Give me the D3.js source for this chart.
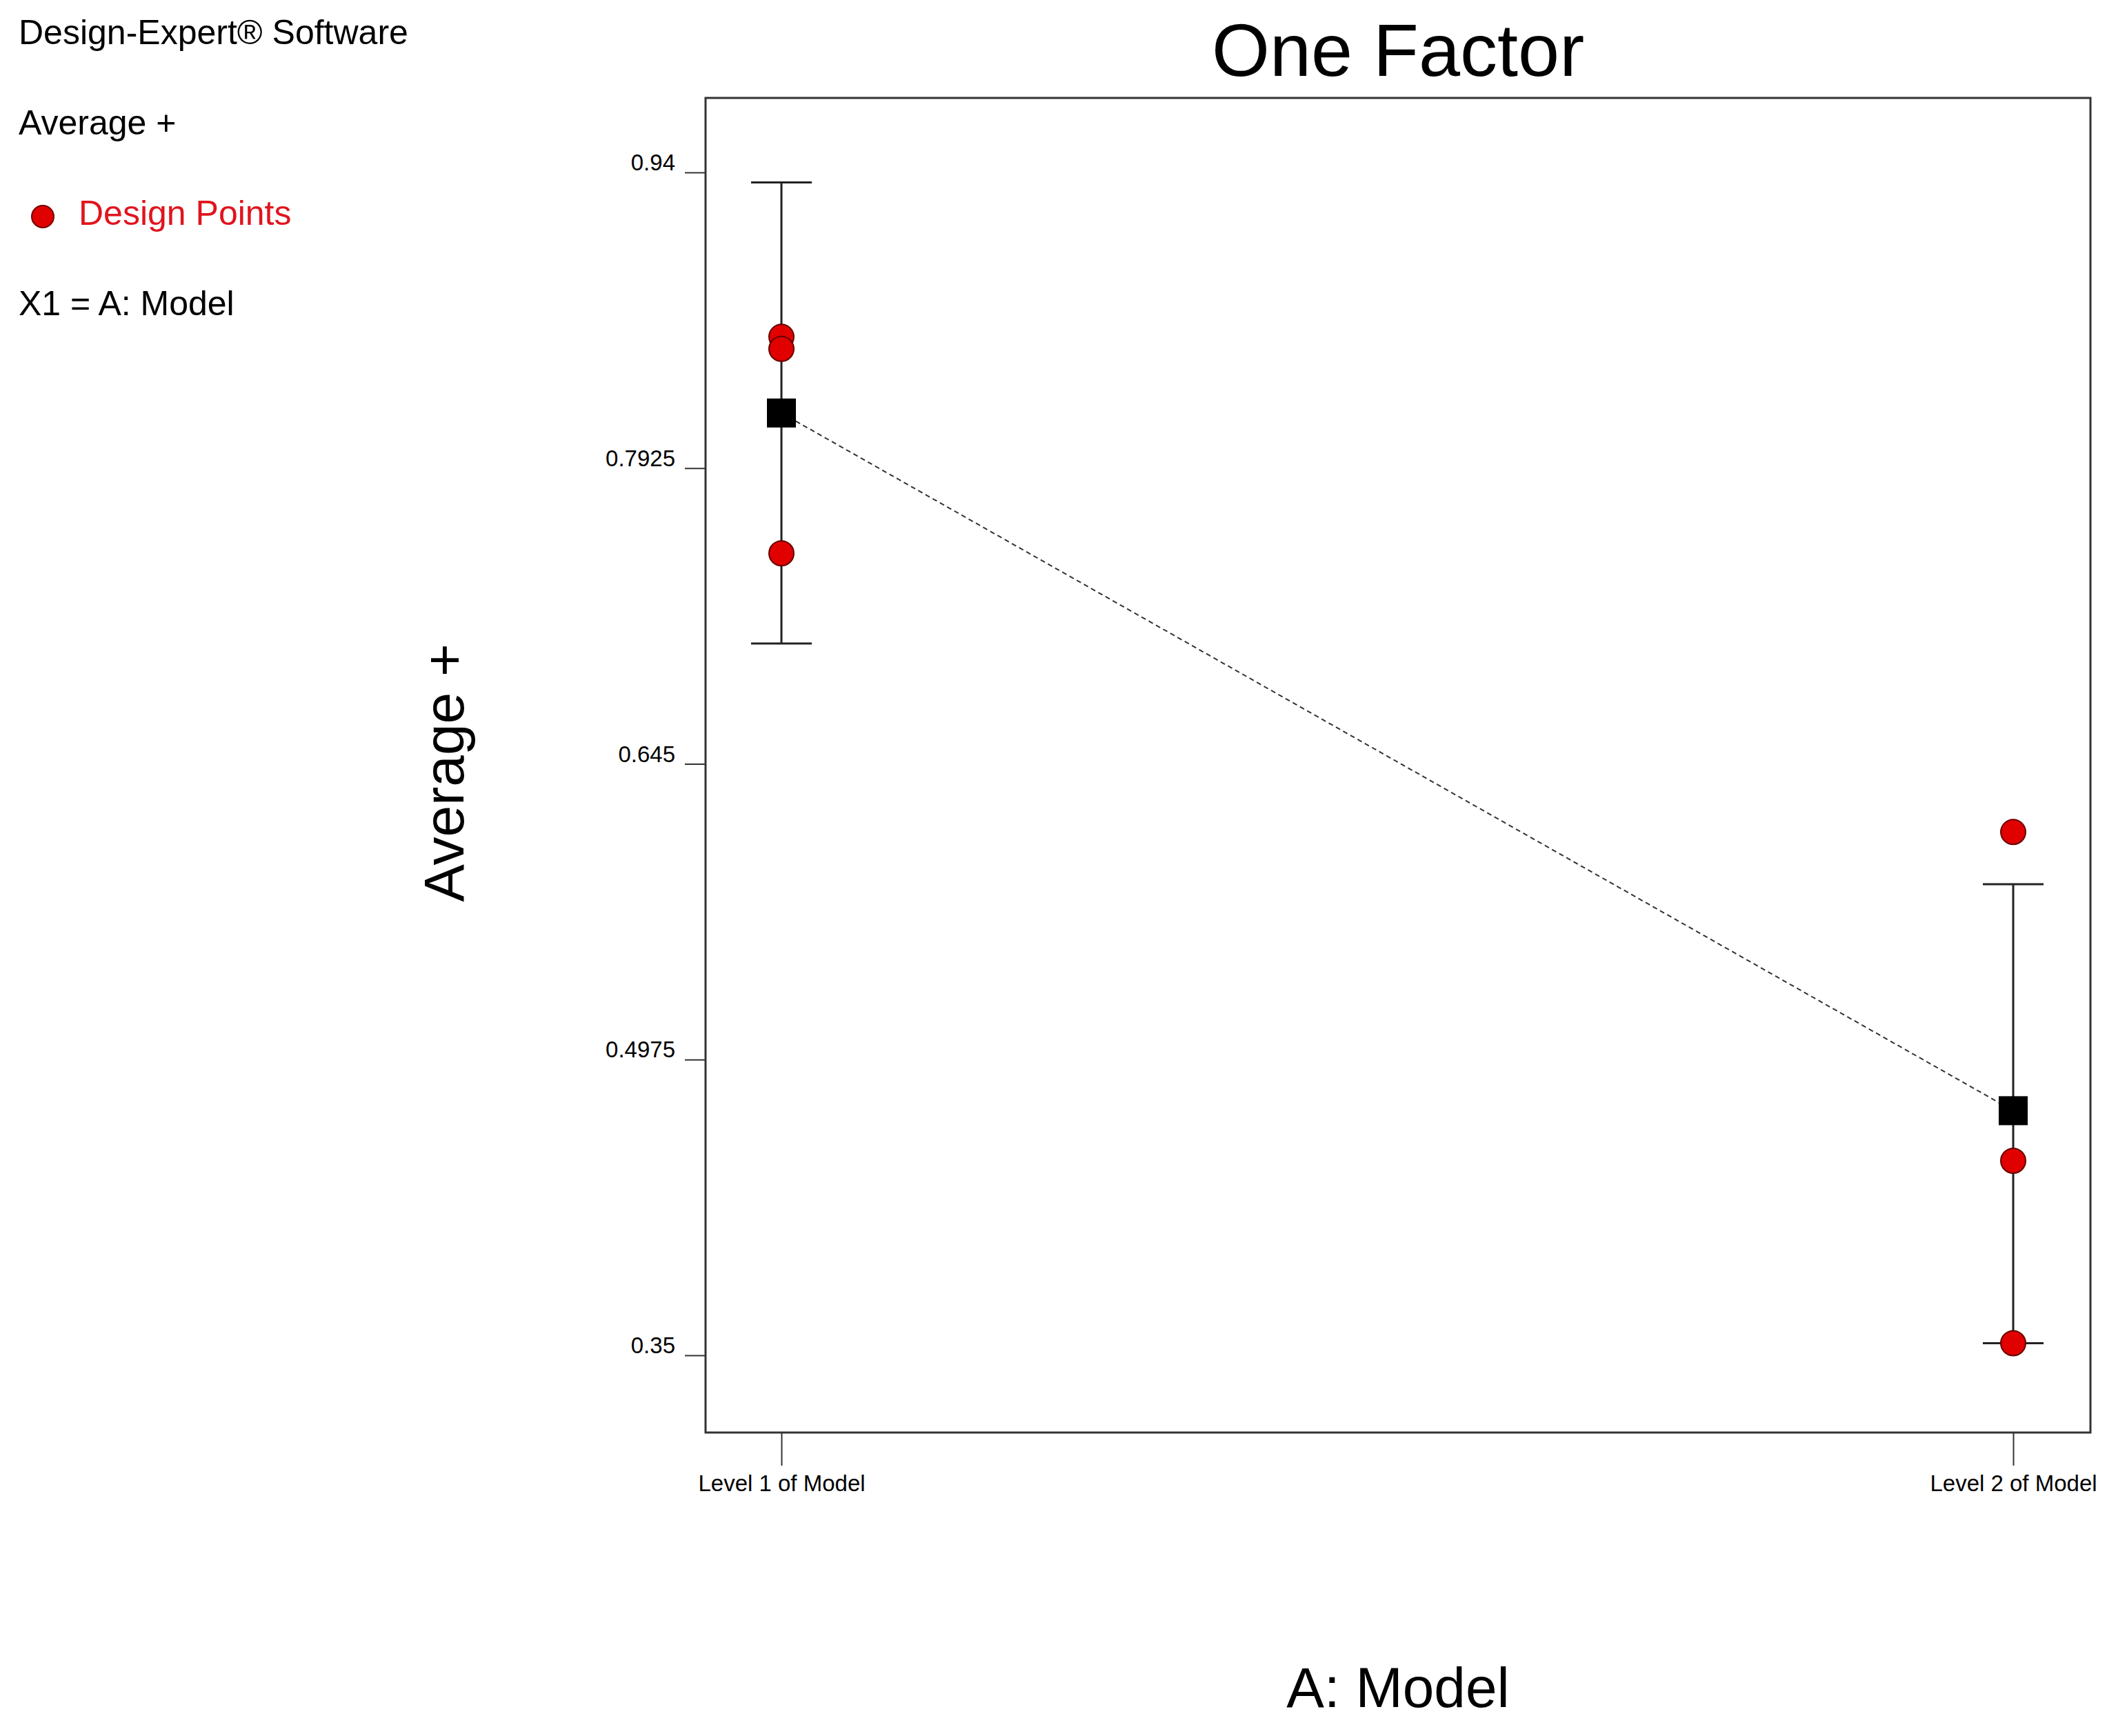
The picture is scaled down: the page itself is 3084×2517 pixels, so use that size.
<!DOCTYPE html>
<html><head><meta charset="utf-8">
<script src="https://cdn.jsdelivr.net/npm/d3@7.9.0/dist/d3.min.js"></script>
<style>body{margin:0;background:#fff}svg{font-family:Arial,"Liberation Sans",sans-serif}</style>
</head><body>
<svg id="chart" width="3084" height="2517"></svg>
<script>
const levels = ['Level 1 of Model', 'Level 2 of Model'];
const yTicks = [0.35, 0.4975, 0.645, 0.7925, 0.94];
const yTickLabels = ['0.35', '0.4975', '0.645', '0.7925', '0.94'];
const means = [0.820, 0.472];
const barLow = [0.705, 0.356];
const barHigh = [0.935, 0.585];
const designPoints = [
  { level: 'Level 1 of Model', value: 0.858 },
  { level: 'Level 1 of Model', value: 0.852 },
  { level: 'Level 1 of Model', value: 0.750 },
  { level: 'Level 2 of Model', value: 0.611 },
  { level: 'Level 2 of Model', value: 0.447 },
  { level: 'Level 2 of Model', value: 0.356 }
];
const legendLines = ['Design-Expert® Software', 'Average +', 'Design Points', 'X1 = A: Model'];

const svg = d3.select('#chart');
const L = 1023, R = 3031, T = 142, B = 2077;

const x = d3.scalePoint().domain(levels).range([1133, 2919]);
const y = d3.scaleLinear().domain([0.35, 0.94]).range([1965, 250]);

// legend text block
svg.selectAll('text.leg')
  .data(legendLines)
  .join('text')
  .attr('x', (d, i) => i === 2 ? 114 : 27)
  .attr('y', (d, i) => 64 + i * 131)
  .attr('font-size', 50)
  .attr('fill', (d, i) => i === 2 ? '#e0141e' : '#000')
  .text(d => d);
svg.append('circle').attr('cx', 62).attr('cy', 314).attr('r', 16)
  .attr('fill', '#e00000').attr('stroke', '#700').attr('stroke-width', 2);

// title
svg.append('text').attr('x', (L + R) / 2).attr('y', 110).attr('text-anchor', 'middle')
  .attr('font-size', 108).text('One Factor');

// frame
svg.append('rect').attr('x', L).attr('y', T).attr('width', R - L).attr('height', B - T)
  .attr('fill', 'none').attr('stroke', '#333').attr('stroke-width', 3);

// y axis
const yAxis = svg.append('g').attr('transform', `translate(${L},0)`)
  .call(d3.axisLeft(y).tickValues(yTicks).tickFormat((d, i) => yTickLabels[i]).tickSize(30).tickPadding(14));
yAxis.select('.domain').remove();
yAxis.selectAll('line').attr('stroke', '#333').attr('stroke-width', 2);
yAxis.selectAll('text').attr('font-size', 33).attr('font-family', 'Arial,"Liberation Sans",sans-serif').attr('dy', '-0.1em');

// x axis
const xAxis = svg.append('g').attr('transform', `translate(0,${B})`)
  .call(d3.axisBottom(x).tickSize(48).tickPadding(14));
xAxis.select('.domain').remove();
xAxis.selectAll('line').attr('stroke', '#333').attr('stroke-width', 2);
xAxis.selectAll('text').attr('font-size', 33).attr('font-family', 'Arial,"Liberation Sans",sans-serif');

// axis titles
svg.append('text').attr('x', (L + R) / 2).attr('y', 2475).attr('text-anchor', 'middle')
  .attr('font-size', 82).text('A: Model');
svg.append('text').attr('transform', `translate(672,${(y(0.94) + y(0.35)) / 2 + 13}) rotate(-90)`)
  .attr('text-anchor', 'middle').attr('font-size', 82).text('Average +');

// dashed mean line
svg.append('path')
  .attr('d', d3.line().x((d, i) => x(levels[i])).y(d => y(d))(means))
  .attr('fill', 'none').attr('stroke', '#333').attr('stroke-width', 2).attr('stroke-dasharray', '7,5');

// error bars
const bars = svg.append('g').selectAll('g').data(levels).join('g');
bars.append('line').attr('x1', d => x(d)).attr('x2', d => x(d))
  .attr('y1', (d, i) => y(barHigh[i])).attr('y2', (d, i) => y(barLow[i]))
  .attr('stroke', '#222').attr('stroke-width', 3);
[barHigh, barLow].forEach(arr => {
  bars.append('line').attr('x1', d => x(d) - 44).attr('x2', d => x(d) + 44)
    .attr('y1', (d, i) => y(arr[i])).attr('y2', (d, i) => y(arr[i]))
    .attr('stroke', '#222').attr('stroke-width', 3);
});

// design points
svg.append('g').selectAll('circle').data(designPoints).join('circle')
  .attr('cx', d => x(d.level)).attr('cy', d => y(d.value)).attr('r', 18)
  .attr('fill', '#e00000').attr('stroke', '#600').attr('stroke-width', 2);

// means
svg.append('g').selectAll('rect').data(means).join('rect')
  .attr('x', (d, i) => x(levels[i]) - 21).attr('y', d => y(d) - 21)
  .attr('width', 42).attr('height', 42).attr('fill', '#000');
</script>
</body></html>
